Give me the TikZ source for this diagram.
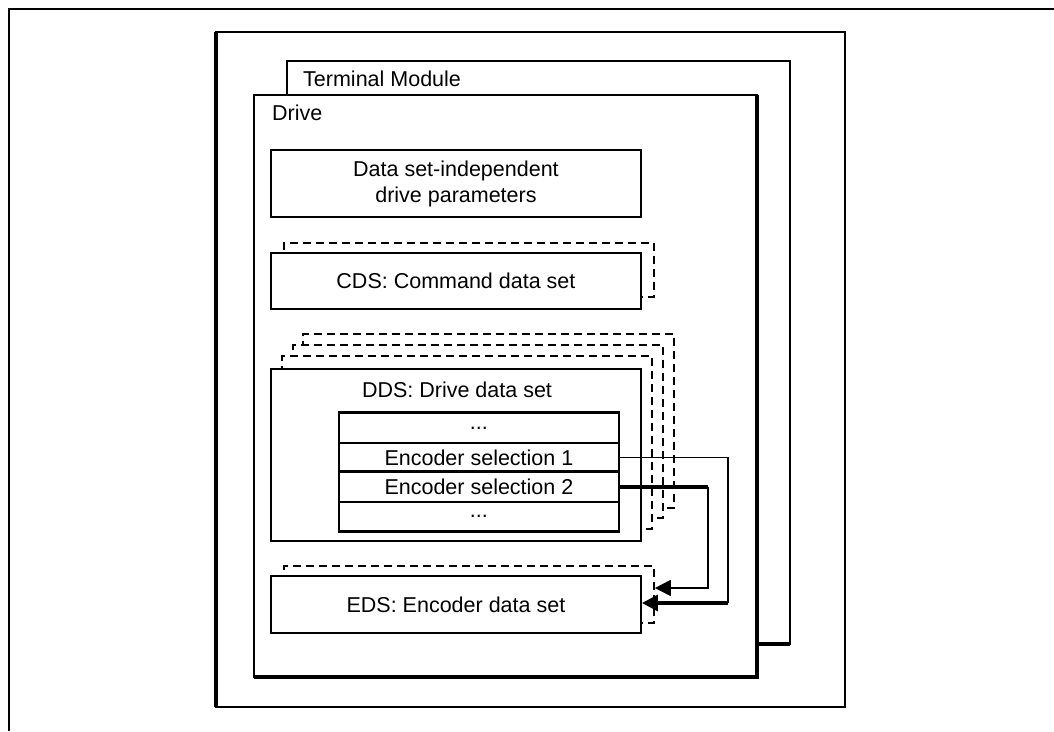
\documentclass[tikz,border=0pt]{standalone}
\usepackage{fontspec}
\setmainfont{Liberation Sans}
\usetikzlibrary{arrows.meta,calc}
\begin{document}
\begin{tikzpicture}[x=1pt,y=-1pt,
  txt/.style={font=\fontsize{21.5}{26}\selectfont},
  boxsolid/.style={draw, line width=1.9pt, fill=white},
  boxdash/.style={draw, line width=1.8pt, fill=white, dash pattern=on 8pt off 5pt},
  conthin/.style={line width=1.7pt},
  conthick/.style={line width=3.2pt},
  tip/.style={-{Triangle[length=16pt,width=16pt]}}
]
\useasboundingbox (0,0) rectangle (1054,731);
% partially visible outer frame
\draw[line width=2pt] (1054,9) -- (9,9) -- (9,731);
% box A
\draw[boxsolid] (216,32) rectangle (845,707);
\draw[line width=3.5pt] (216,32) -- (216,707);
% Terminal module
\draw[boxsolid] (287,61) rectangle (790,644);
\draw[line width=3.5pt] (287,644) -- (790,644);
\node[txt, anchor=west, inner sep=0pt] (tm) at (303,79) {Terminal Module};
% Drive
\draw[boxsolid] (254,95) rectangle (757,677);
\draw[line width=3.5pt] (254,677) -- (757,677) -- (757,95);
\node[txt, anchor=west, inner sep=0pt] (drv) at (272,113) {Drive};
% Data set-independent
\node[boxsolid, txt, align=center, anchor=north west, minimum width=370pt, minimum height=67pt, inner sep=0pt] (dsi) at (270,149) {Data set-independent\\drive parameters};
% CDS
\node[boxdash, anchor=north west, minimum width=370pt, minimum height=54pt] (cdsb) at (283,242) {};
\node[boxsolid, txt, anchor=north west, minimum width=370pt, minimum height=56pt] (cds) at (270,252) {CDS: Command data set};
% DDS
\node[boxdash, anchor=north west, minimum width=371pt, minimum height=174pt] (ddsb3) at (302,333) {};
\node[boxdash, anchor=north west, minimum width=370pt, minimum height=173pt] (ddsb2) at (292,344) {};
\node[boxdash, anchor=north west, minimum width=370pt, minimum height=173pt] (ddsb1) at (281,355) {};
\node[boxsolid, anchor=north west, minimum width=370pt, minimum height=172pt] (dds) at (270,368) {};
\node[txt] (ddst) at (457,390) {DDS: Drive data set};
% table rows
\node[boxsolid, txt, anchor=north west, minimum width=280pt, minimum height=30pt, inner sep=0pt] (r0) at (338,412) {...};
\node[boxsolid, txt, anchor=north west, minimum width=280pt, minimum height=29pt, inner sep=0pt] (e1) at (338,442) {Encoder selection 1};
\node[boxsolid, txt, anchor=north west, minimum width=280pt, minimum height=30pt, inner sep=0pt] (e2) at (338,471) {Encoder selection 2};
\node[boxsolid, txt, anchor=north west, minimum width=280pt, minimum height=29pt, inner sep=0pt] (r3) at (338,501) {...};
\draw[line width=3pt] (r0.north west) -- (r0.north east);
\draw[line width=3pt] (e2.north west) -- (e2.north east);
\draw[line width=3pt] (r3.south west) -- (r3.south east);
% EDS
\node[boxdash, anchor=north west, minimum width=370pt, minimum height=57pt] (edsb) at (283,565) {};
\node[boxsolid, txt, anchor=north west, minimum width=370pt, minimum height=57pt] (eds) at (270,575) {EDS: Encoder data set};
% connectors
\coordinate (c1) at (728,603);
\coordinate (c2) at (708,588);
\draw[conthin] (e1.east) -- (e1.east -| c1) -- (c1);
\draw[conthick, tip] (c1) -- (c1 -| eds.east);
\draw[conthick] (e2.east) -- (e2.east -| c2);
\draw[conthin, tip] (e2.east -| c2) -- (c2) -- (c2 -| edsb.east);
\end{tikzpicture}
\end{document}
